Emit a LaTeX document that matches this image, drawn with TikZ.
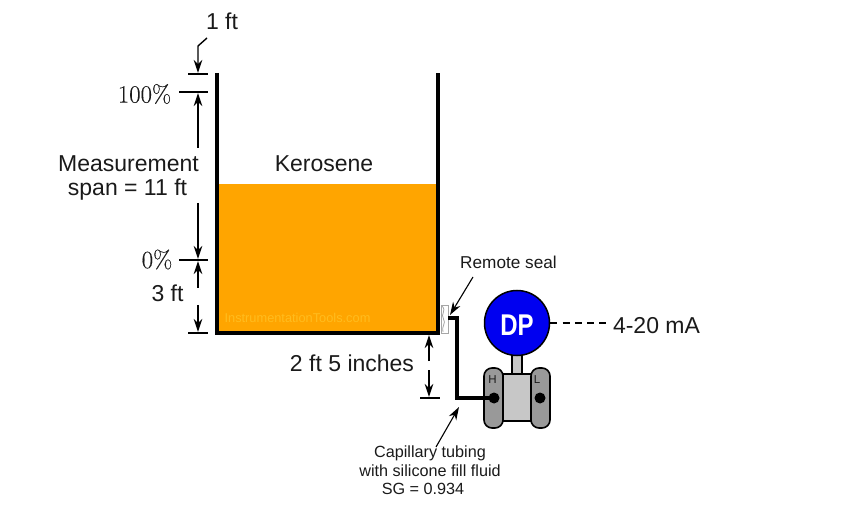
\documentclass[tikz,border=0pt]{standalone}
\usepackage{fontspec}
\setmainfont{Liberation Sans}
\newfontfamily\lmfont[FakeBold=0.25]{Latin Modern Roman}
\usetikzlibrary{arrows.meta}
\definecolor{kero}{HTML}{FFA500}
\definecolor{wmark}{HTML}{FFBC1E}
\definecolor{txt}{HTML}{1A1A1A}
\begin{document}
\begin{tikzpicture}[x=1pt,y=-1pt,
  lbl/.style={font=\fontsize{23}{25}\selectfont,text=txt,inner sep=0pt},
  sml/.style={font=\fontsize{16.2}{18}\selectfont,text=txt,inner sep=0pt},
  pct/.style={font=\lmfont\fontsize{24.8}{26}\selectfont,text=txt,inner sep=0pt},
  tick/.style={line width=1.4pt},
  dimarrow/.style={line width=1.4pt,-{Stealth[length=13pt,width=8.5pt]}},
  leader/.style={line width=1.1pt,-{Stealth[length=13pt,width=8.5pt]}},
  wall/.style={line width=4pt},
  tube/.style={line width=3.8pt,line join=miter},
  body/.style={draw=black,line width=1.6pt}]
\useasboundingbox (0,0) rectangle (860,513);
% liquid and tank
\fill[kero] (217,184) rectangle (438,333);
\coordinate (tl) at (217,73); \coordinate (bl) at (217,333);
\coordinate (br) at (438,333); \coordinate (tr) at (438,73);
\draw[wall,line join=miter] (tl) -- (bl) -- (br) -- (tr);
\node[font=\fontsize{12.8}{15}\selectfont,text=wmark,inner sep=0pt] (wm) at (297.5,318) {InstrumentationTools.com};
% texts
\node[lbl] (onefoot) at (222,21) {1 ft};
\node[pct] (hundred) at (144.5,94) {100\%};
\node[pct] (zero) at (157,259.5) {0\%};
\node[lbl] (meas) at (128.5,164) {Measurement};
\node[lbl] (span) at (127.5,189.5) {span = 11 ft};
\node[lbl] (kero) at (324,164) {Kerosene};
\node[lbl] (three) at (167.5,293) {3 ft};
\node[lbl] (twofive) at (352,363) {2 ft 5 inches};
\node[sml,font=\fontsize{17.2}{19}\selectfont] (seal) at (508.5,262) {Remote seal};
\node[sml] (cap1) at (430,453) {Capillary tubing};
\node[sml] (cap2) at (430,471) {with silicone fill fluid};
\node[sml] (cap3) at (423,489) {SG = 0.934};
\node[lbl] (ma) at (656.5,326) {4-20 mA};
% dimension ticks
\coordinate (t1a) at (188,74); \coordinate (t1b) at (208,74);
\coordinate (t2a) at (179,92); \coordinate (t2b) at (208,92);
\coordinate (t3a) at (179,260); \coordinate (t3b) at (208,260);
\coordinate (t4a) at (188,333); \coordinate (t4b) at (208,333);
\coordinate (t5a) at (420,398); \coordinate (t5b) at (440,398);
\foreach \a/\b in {t1a/t1b,t2a/t2b,t3a/t3b,t4a/t4b,t5a/t5b}
  \draw[tick] (\a) -- (\b);
% dimension arrows
\coordinate (d0) at (207,38); \coordinate (d1) at (198,46); \coordinate (d1e) at (198,73);
\draw[dimarrow] (d0) -- (d1) -- (d1e);
\coordinate (d2) at (198,148); \coordinate (d2e) at (198,93);
\coordinate (d3) at (198,203); \coordinate (d3e) at (198,259);
\coordinate (d4) at (198,288); \coordinate (d4e) at (198,261);
\coordinate (d5) at (198,305); \coordinate (d5e) at (198,332);
\coordinate (d6) at (429,361); \coordinate (d6e) at (429,335);
\coordinate (d7) at (429,370); \coordinate (d7e) at (429,397);
\foreach \a/\b in {d2/d2e,d3/d3e,d4/d4e,d5/d5e,d6/d6e,d7/d7e}
  \draw[dimarrow] (\a) -- (\b);
% remote seal
\draw[gray!70,line width=.8pt] (441,305) rectangle (448,333);
\draw[gray!70,line width=.8pt] (442,306) .. controls (447,311) and (440,314) .. (443.5,319) .. controls (446.5,323) and (441,327) .. (443,332);
% transmitter
\draw[body,fill=black!22] (512,350) rectangle (522,376);
\node[draw=black,line width=1.5pt,fill=blue!94!black,circle,minimum size=65pt,inner sep=0pt] (dp) at (517,323) {};
\node[text=white,inner sep=0pt,font=\bfseries\fontsize{30}{31}\selectfont,xscale=.8] (dplabel) at (517,325) {DP};
\draw[body,fill=black!22] (503,374) rectangle (532,421);
\draw[body,fill=black!40,rounded corners=8pt] (484,368) rectangle (503,428);
\draw[body,fill=black!40,rounded corners=8pt] (531,368) rectangle (550,428);
\node[font=\fontsize{11.5}{13}\selectfont,inner sep=0pt,text=txt] (hl) at (492.5,380) {H};
\node[font=\fontsize{11.5}{13}\selectfont,inner sep=0pt,text=txt] (ll) at (537,380) {L};
\node[fill=black,circle,minimum size=11pt,inner sep=0pt] (hp) at (494,398) {};
\node[fill=black,circle,minimum size=11pt,inner sep=0pt] (lp) at (540,398) {};
% capillary
\coordinate (sealout) at (448,318); \coordinate (bend1) at (457,318); \coordinate (bend2) at (457,398);
\draw[tube] (sealout) -- (bend1) -- (bend2) -- (hp.center);
% signal
\coordinate (sigend) at (606,323);
\draw[line width=1.4pt,dash pattern=on 7pt off 5.25pt] (dp.east) -- (sigend);
% leaders
\coordinate (sl) at (473,277); \coordinate (sle) at (450,315);
\coordinate (cl) at (436,447); \coordinate (cle) at (459,407);
\draw[leader] (sl) -- (sle);
\draw[leader] (cl) -- (cle);
\end{tikzpicture}
\end{document}
